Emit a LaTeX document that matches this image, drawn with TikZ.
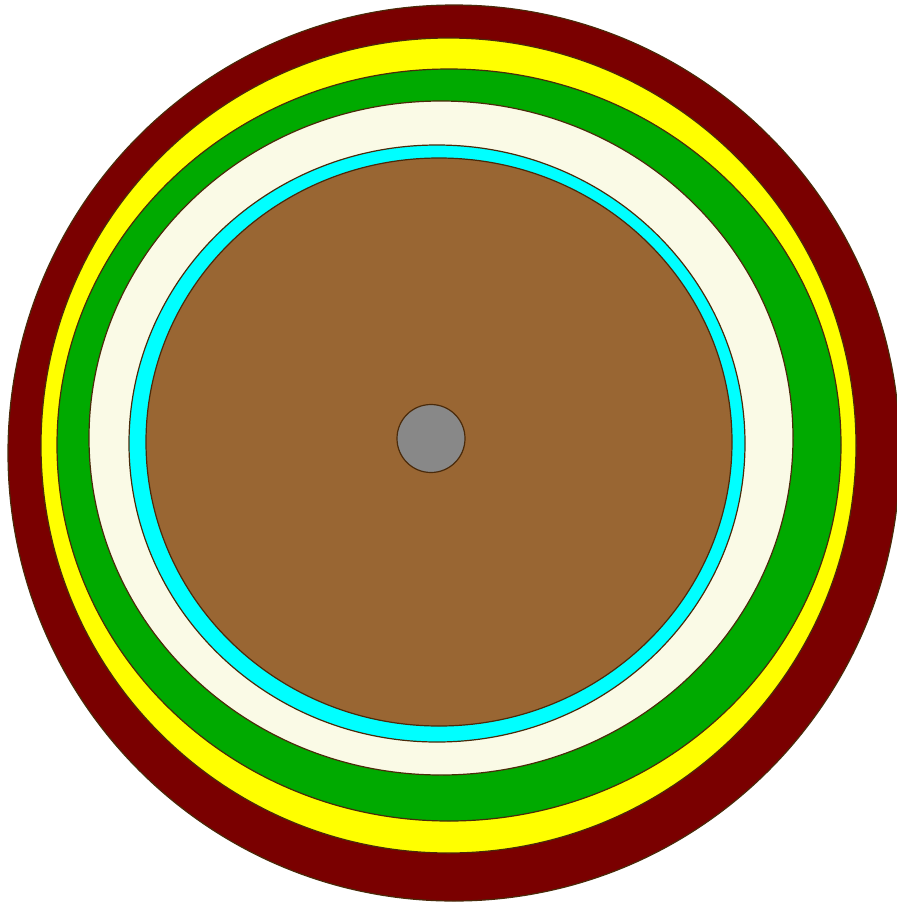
\documentclass[tikz,border=0pt]{standalone}
\definecolor{maroonc}{HTML}{7A0000}
\definecolor{yellowc}{HTML}{FFFF00}
\definecolor{greenc}{HTML}{00AA00}
\definecolor{creamc}{HTML}{FAFAE6}
\definecolor{cyanc}{HTML}{00FFFF}
\definecolor{brownc}{HTML}{996633}
\definecolor{grayc}{HTML}{888888}
\definecolor{edgec}{HTML}{4A2A0A}
\begin{document}
\begin{tikzpicture}[x=1pt,y=-1pt,
  ring/.style={draw=edgec,line width=1.2pt}]
\useasboundingbox (0,0) rectangle (897,903);
\path[ring,fill=maroonc] (454,453) ellipse [x radius=446,y radius=448];
\path[ring,fill=yellowc] (448.5,445.5) ellipse [x radius=407.5,y radius=407.5];
\path[ring,fill=greenc] (449,445) ellipse [x radius=392,y radius=376];
\path[ring,fill=creamc] (441,438) ellipse [x radius=352,y radius=337];
\path[ring,fill=cyanc] (437,443.5) ellipse [x radius=308,y radius=298.5];
\path[ring,fill=brownc] (439,442) ellipse [x radius=293,y radius=284];
\path[ring,fill=grayc] (431,438.5) circle [radius=34];
\end{tikzpicture}
\end{document}
